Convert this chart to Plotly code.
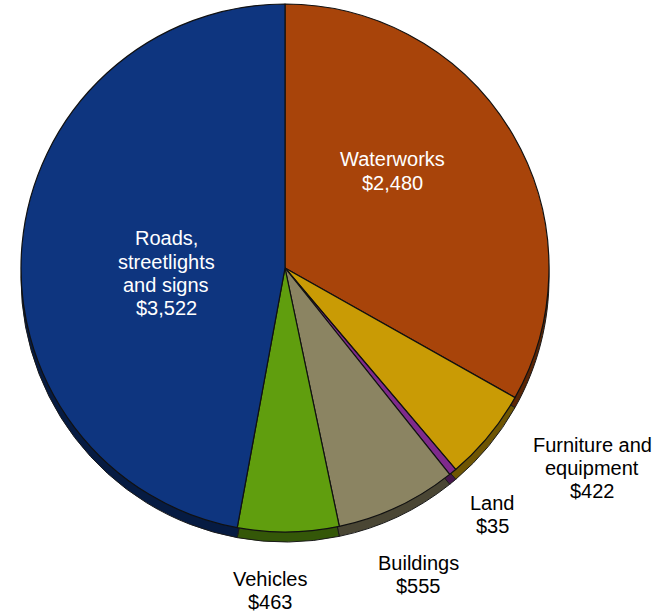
import plotly.graph_objects as go

# Capital asset categories and values (dollars, thousands)
categories = ["Waterworks", "Furniture and equipment", "Land", "Buildings", "Vehicles",
              "Roads, streetlights and signs"]
values = [2480, 422, 35, 555, 463, 3522]
label_lines = [["Waterworks"], ["Furniture and", "equipment"], ["Land"], ["Buildings"],
               ["Vehicles"], ["Roads,", "streetlights", "and signs"]]

face_colors = ["#A8440A", "#C99B05", "#7F2A8C", "#8B8462", "#609E0E", "#0E357F"]
side_colors = ["#5A2505", "#6E5503", "#45164C", "#4A4634", "#345708", "#061B42"]

W, H = 654, 612
cx, cy, r = 285, 268, 264   # pie centre and radius, pixels
depth = 10                  # thickness of the rim under the face


def dom(dy=0):
    top = cy - r + dy
    bottom = cy + r + dy
    return dict(x=[(cx - r) / W, (cx + r) / W], y=[1 - bottom / H, 1 - top / H])


fig = go.Figure()
# rim of the disc, drawn first so the face covers it
fig.add_trace(go.Pie(
    labels=categories, values=values, sort=False, direction="clockwise", rotation=0,
    marker=dict(colors=side_colors, line=dict(color="#1a1a1a", width=1)),
    textinfo="none", hoverinfo="skip", domain=dom(depth), showlegend=False,
))
# top face
fig.add_trace(go.Pie(
    labels=categories, values=values, sort=False, direction="clockwise", rotation=0,
    marker=dict(colors=face_colors, line=dict(color="#111111", width=1.2)),
    textinfo="none", domain=dom(0), showlegend=False,
))

# label block centres (pixels), text colours and line spacing
label_pos = [(393, 171), (592, 468), (492, 514), (418, 574), (270, 590), (166, 273)]
label_col = ["white", "black", "black", "black", "black", "white"]
line_gap = 23
font = "Liberation Sans, Arial, sans-serif"
for lines, v, (px, py), col in zip(label_lines, values, label_pos, label_col):
    rows = lines + [f"${v:,}"]
    y0 = py - line_gap * (len(rows) - 1) / 2
    for i, row in enumerate(rows):
        fig.add_annotation(x=px / W, y=1 - (y0 + i * line_gap) / H, xref="paper", yref="paper",
                           xanchor="center", yanchor="middle", text=row, showarrow=False,
                           font=dict(family=font, size=20, color=col))

fig.update_layout(width=W, height=H, margin=dict(l=0, r=0, t=0, b=0),
                  paper_bgcolor="white", plot_bgcolor="white")
fig.write_html("out.html")
